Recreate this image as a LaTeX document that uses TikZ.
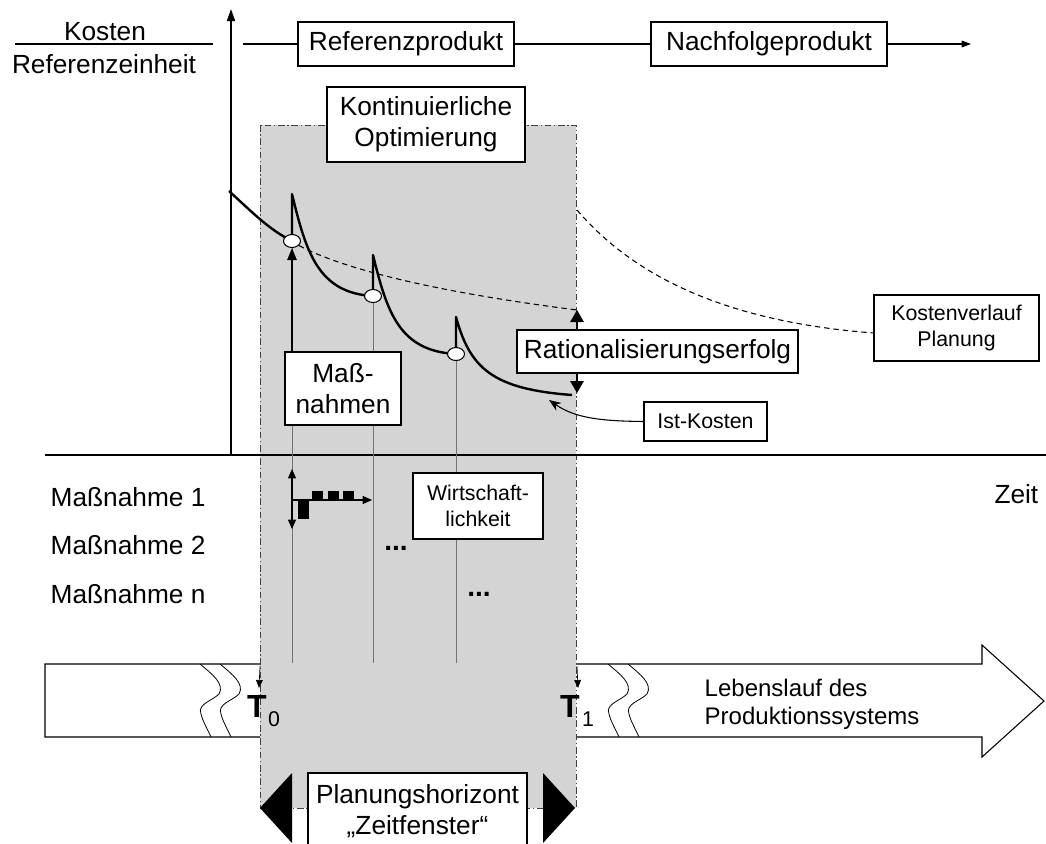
\documentclass[tikz,border=0pt]{standalone}
\usepackage{fontspec}
\setmainfont{Liberation Sans}
\usetikzlibrary{arrows.meta,shapes.geometric,positioning}
\tikzset{
  infobox/.style={draw, fill=white, line width=0.8pt, align=center, inner sep=0pt},
  bigtext/.style={font=\fontsize{19.7}{23}\selectfont},
  midtext/.style={font=\fontsize{18}{21}\selectfont},
  smalltext/.style={font=\fontsize{16}{19.5}\selectfont},
  costline/.style={line width=1.8pt},
  planline/.style={line width=0.8pt, dash pattern=on 4pt off 3pt},
  guide/.style={black!55, line width=0.5pt},
  marker/.style={ellipse, draw, fill=white, line width=0.8pt, minimum width=12.75pt, minimum height=9.75pt, inner sep=0pt},
  fatarrow/.style={line width=1.5pt, {Triangle[length=9pt,width=10pt]}-{Triangle[length=9pt,width=10pt]}},
}
\begin{document}
\begin{tikzpicture}[x=0.75pt, y=-0.75pt]
                \useasboundingbox (0,0) rectangle (1046,843);
                \clip (0,0) rectangle (1046,843);

                % Life cycle arrow
                \draw[line width=0.8pt, fill=white] (45,664) -- (982,664) -- (982,645) -- (1044,701) -- (982,757) -- (982,737) -- (45,737) -- cycle;
                \foreach \x in {200,220,608,628} {
                    \draw[line width=0.6pt] (\x,664) .. controls ({\x+12},674) and ({\x+25},684) .. ({\x+19},694)
                        .. controls ({\x+12},701) and ({\x-3},704) .. ({\x+1},714)
                        .. controls ({\x+3},722) and ({\x+8},730) .. ({\x+11},737);
                }
                \node[midtext, anchor=west, align=left] (life) at (700,704) {Lebenslauf des\\Produktionssystems};

                % Planning window
                \draw[fill=black!17, draw=black!75, line width=0.7pt, dash pattern=on 5pt off 2pt on 1pt off 2pt] (260,125) rectangle (576,808);

                % Axes
                \coordinate (origin) at (231,455);
                \coordinate (ytop) at (231,9);
                \coordinate (xleft) at (45,455);
                \coordinate (xright) at (1046,455);
                \draw[line width=1.2pt, -{Triangle[length=9pt,width=6pt]}] (origin) -- (ytop);
                \draw[line width=1.2pt] (xleft) -- (xright);
                \node[bigtext, anchor=east] (zeit) at (1043,494) {Zeit};

                % Axis label
                \node[bigtext] (kosten) at (105,32) {Kosten};
                \node[bigtext] (einheit) at (104,64) {Referenzeinheit};
                \draw[line width=0.8pt] (15,44) -- (213,44);

                % Products
                \coordinate (topstart) at (243,44);
                \coordinate (topend) at (971,44);
                \node[infobox, bigtext, minimum width=162pt, minimum height=33pt] (ref) at (406,44) {Referenzprodukt};
                \node[infobox, bigtext, minimum width=177pt, minimum height=33pt] (nach) at (769,44) {Nachfolgeprodukt};
                \draw[line width=0.8pt] (topstart) -- (ref.west);
                \draw[line width=0.8pt] (ref.east) -- (nach.west);
                \draw[line width=0.8pt, -{Triangle[length=7pt,width=5pt]}] (nach.east) -- (topend);

                \node[infobox, bigtext, minimum width=148.5pt, minimum height=56.25pt] (kont) at (426,124.5) {Kontinuierliche\\Optimierung};

                % Planned cost curves
                \draw[planline] (291,241) .. controls (330,265) and (420,290) .. (577,310);
                \draw[planline] (577,210) .. controls (620,260) and (700,320) .. (874,333);

                % Guide lines of the measures
                \draw[guide] (292,241) -- (292,663);
                \draw[guide] (373,296) -- (373,663);
                \draw[guide] (456,354) -- (456,663);

                % Actual cost curve
                \draw[costline, line join=round] (229,191) .. controls (255,215) and (270,230) .. (292,241) -- (292,194)
                    .. controls (306,252) and (318,293) .. (373,296) -- (373,255)
                    .. controls (387,312) and (399,351) .. (456,354) -- (456,317)
                    .. controls (470,368) and (492,389) .. (572,395);

                \node[marker] (c1) at (292,241) {};
                \node[marker] (c2) at (373,296) {};
                \node[marker] (c3) at (456,354) {};

                % Measures
                \node[infobox, bigtext, minimum width=87pt, minimum height=54.75pt] (mass) at (343,388.5) {Maß-\\nahmen};
                \draw[line width=1.2pt, -{Triangle[length=9pt,width=7pt]}] (mass.north -| c1) -- (c1.south);

                % Rationalisation
                \coordinate (plantop) at (577,310);
                \coordinate (istend) at (577,393);
                \draw[fatarrow] (plantop) -- (istend);
                \node[infobox, bigtext, minimum width=210.75pt, minimum height=32.25pt] (ratio) at (657.5,351.5) {Rationalisierungserfolg};

                \node[infobox, smalltext, minimum width=92.25pt, minimum height=29.25pt] (ist) at (705.5,421.5) {Ist-Kosten};
                \coordinate (isttip) at (549,400);
                \draw[line width=0.8pt, -{Stealth[length=9pt,width=7pt]}] (ist.west) .. controls (600,421) and (575,418) .. (isttip);

                \node[infobox, smalltext, minimum width=123.75pt, minimum height=49.5pt] (kvp) at (956.5,328) {Kostenverlauf\\Planung};

                % Measure list
                \node[bigtext, anchor=west] (m1) at (46,497) {Maßnahme 1};
                \node[bigtext, anchor=west] (m2) at (46,545) {Maßnahme 2};
                \node[bigtext, anchor=west] (mn) at (46,594) {Maßnahme n};

                % Small cash flow chart
                \draw[line width=0.8pt, {Triangle[length=7pt,width=6pt]}-{Triangle[length=7pt,width=6pt]}] (292,469) -- (292,529);
                \draw[line width=0.8pt, -{Triangle[length=7pt,width=6pt]}] (292,500) -- (372,500);
                \fill (298,500) rectangle (309,519);
                \foreach \x in {312,328,343} {
                    \fill (\x,491) rectangle ({\x+11},500);
                }
                \node[infobox, smalltext, minimum width=97.5pt, minimum height=49.5pt] (wirt) at (478,506) {Wirtschaft-\\lichkeit};
                \node[font=\fontsize{21}{21}\selectfont\bfseries] (dots1) at (396,548) {...};
                \node[font=\fontsize{21}{21}\selectfont\bfseries] (dots2) at (479,594) {...};

                % Window borders
                \draw[line width=0.5pt, -{Triangle[length=6pt,width=5pt]}] (260,666) -- (259,688);
                \draw[line width=0.5pt, -{Triangle[length=6pt,width=5pt]}] (577,666) -- (578,688);
                \node[font=\fontsize{24}{24}\selectfont\bfseries] (t0) at (257,706) {T};
                \node[smalltext] (t0sub) at (274,719) {0};
                \node[font=\fontsize{24}{24}\selectfont\bfseries] (t1) at (570,706) {T};
                \node[smalltext] (t1sub) at (588,719) {1};

                % Planning horizon
                \fill (292,773) -- (260,808) -- (292,843) -- cycle;
                \fill (543,773) -- (575,808) -- (543,843) -- cycle;
                \node[infobox, bigtext, minimum width=164.25pt, minimum height=57pt] (horizont) at (417.5,811) {Planungshorizont\\„Zeitfenster“};

            \end{tikzpicture}
\end{document}
